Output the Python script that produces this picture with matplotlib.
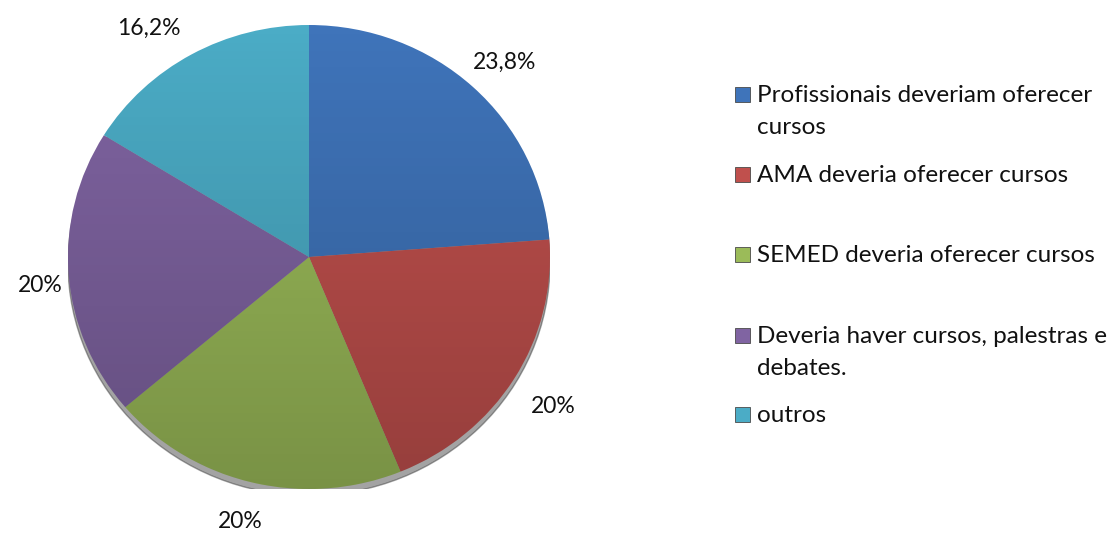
import numpy as np
import matplotlib
matplotlib.use('Agg')
from matplotlib import pyplot as plt
from matplotlib.patches import Rectangle, Ellipse
from matplotlib.transforms import offset_copy

plt.rcParams['font.family'] = ['Lato', 'DejaVu Sans']

categorias = ['Profissionais deveriam oferecer\ncursos',
              'AMA deveria oferecer cursos',
              'SEMED deveria oferecer cursos',
              'Deveria haver cursos, palestras e\ndebates.',
              'outros']
valores = [23.8, 20, 20, 20, 16.2]
rotulos = ['23,8%', '20%', '20%', '20%', '16,2%']
cores = ['#3F74BA', '#C0504D', '#9BBB59', '#8064A2', '#4BACC6']

W, H = 1114, 534
fig = plt.figure(figsize=(W / 100, H / 100), dpi=100)

# pie box in pixels: centre (309, 257), radii 241 x 232
cx, cy, rx, ry = 309, 257, 241, 232
ax = fig.add_axes([(cx - rx) / W, (H - cy - ry) / H, 2 * rx / W, 2 * ry / H])

# shadow under the pie
ax.add_patch(Ellipse((0.0, -0.028), 2.0, 2.0, color='#333333', alpha=0.45, zorder=0))

wedges, texts = ax.pie(valores, labels=rotulos, colors=cores, startangle=90,
                       counterclock=False, labeldistance=1.18,
                       wedgeprops=dict(linewidth=0),
                       textprops=dict(fontsize=16.5, color='#111111'))

# label distances and small nudges (px, +y = down) to mimic the Excel placement
distancias = [1.18, 1.2, 1.17, 1.12, 1.18]
ajustes = [(2, 6), (-2, 3), (-2, 1), (0, 9), (-22, 10)]
for t, w, d, (dx, dy) in zip(texts, wedges, distancias, ajustes):
    ang = np.deg2rad((w.theta1 + w.theta2) / 2)
    t.set_position((d * np.cos(ang), d * np.sin(ang)))
    t.set_transform(offset_copy(ax.transData, fig=fig, x=dx, y=-dy, units='dots'))
    t.set_ha('center')
    t.set_va('center')

# soft vertical shading over the pie
grad = np.linspace(0, 1, 256).reshape(-1, 1)
shade = np.zeros((256, 1, 4))
shade[..., 3] = 0.22 * grad[:, 0:1]
img = ax.imshow(shade, extent=(-1, 1, -1, 1), origin='upper', aspect='auto', zorder=3)
clip = Ellipse((0, 0), 2.0, 2.0, transform=ax.transData)
img.set_clip_path(clip)

ax.set_xlim(-1, 1)
ax.set_ylim(-1, 1)
ax.set_aspect('auto')
ax.axis('off')

# legend, placed like the original (baseline of first line, px from top)
bases_y = [102, 182, 262, 343, 422]
for cor, nome, y in zip(cores, categorias, bases_y):
    fig.patches.append(Rectangle((735 / W, (H - y) / H), 15 / W, 15 / H,
                                 transform=fig.transFigure, facecolor=cor,
                                 edgecolor='#4a4a4a', linewidth=0.6))
    for i, linha in enumerate(nome.split('\n')):
        fig.text(757 / W, (H - y - 32 * i) / H, linha, fontsize=17.5,
                 color='#111111', va='baseline', ha='left')

fig.savefig('out.png', dpi=100)
